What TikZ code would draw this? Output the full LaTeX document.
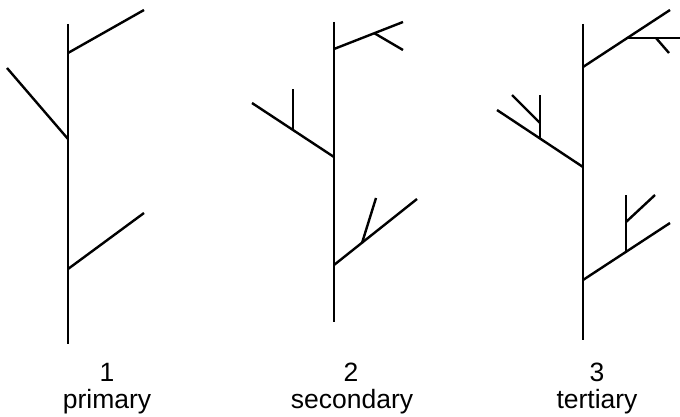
\documentclass[tikz,border=0pt]{standalone}
\usepackage{fontspec}
\setmainfont{Liberation Sans}
\begin{document}
\begin{tikzpicture}[x=1pt,y=-1pt,
  trunk/.style={line width=2.8pt},
  branch/.style={line width=2.4pt},
  lbl/.style={font=\fontsize{26.5}{31}\selectfont, anchor=base, inner sep=0pt}]
\useasboundingbox (0,0) rectangle (680,417);

% --- 1: primary branching ---
\coordinate (a-top) at (68,24);
\coordinate (a-bot) at (68,344);
\coordinate (a-j1) at (68,53);   \coordinate (a-e1) at (144,10);
\coordinate (a-j2) at (68,139);  \coordinate (a-e2) at (7,68);
\coordinate (a-j3) at (68,269);  \coordinate (a-e3) at (144,213);
\draw[trunk] (a-top) -- (a-bot);
\draw[branch] (a-j1) -- (a-e1);
\draw[branch] (a-j2) -- (a-e2);
\draw[branch] (a-j3) -- (a-e3);

% --- 2: secondary branching ---
\coordinate (b-top) at (334,22);
\coordinate (b-bot) at (334,322);
\coordinate (b-j1) at (334,49);  \coordinate (b-e1) at (403,22);
\coordinate (b-k1) at (374,33);  \coordinate (b-f1) at (403,50);
\coordinate (b-j2) at (334,157); \coordinate (b-e2) at (252,103);
\coordinate (b-k2) at (293,130); \coordinate (b-f2) at (293,89);
\coordinate (b-j3) at (334,265); \coordinate (b-e3) at (417,199);
\coordinate (b-k3) at (362,243); \coordinate (b-f3) at (376,198);
\draw[trunk] (b-top) -- (b-bot);
\draw[branch] (b-j1) -- (b-e1);
\draw[branch] (b-k1) -- (b-f1);
\draw[branch] (b-j2) -- (b-e2);
\draw[branch] (b-k2) -- (b-f2);
\draw[branch] (b-j3) -- (b-e3);
\draw[branch] (b-k3) -- (b-f3);

% --- 3: tertiary branching ---
\coordinate (c-top) at (583,24);
\coordinate (c-bot) at (583,340);
\coordinate (c-j1) at (583,67);  \coordinate (c-e1) at (670,10);
\coordinate (c-k1) at (628,38);  \coordinate (c-f1) at (680,38);
\coordinate (c-m1) at (656,38);  \coordinate (c-g1) at (669,53);
\coordinate (c-j2) at (583,167); \coordinate (c-e2) at (497,110);
\coordinate (c-k2) at (540,138); \coordinate (c-f2) at (540,95);
\coordinate (c-m2) at (540,123); \coordinate (c-g2) at (512,95);
\coordinate (c-j3) at (583,280); \coordinate (c-e3) at (670,223);
\coordinate (c-k3) at (626,252); \coordinate (c-f3) at (626,195);
\coordinate (c-m3) at (626,222); \coordinate (c-g3) at (655,195);
\draw[trunk] (c-top) -- (c-bot);
\draw[branch] (c-j1) -- (c-e1);
\draw[branch] (c-k1) -- (c-f1);
\draw[branch] (c-m1) -- (c-g1);
\draw[branch] (c-j2) -- (c-e2);
\draw[branch] (c-k2) -- (c-f2);
\draw[branch] (c-m2) -- (c-g2);
\draw[branch] (c-j3) -- (c-e3);
\draw[branch] (c-k3) -- (c-f3);
\draw[branch] (c-m3) -- (c-g3);

% --- captions ---
\node[lbl] (n1) at (107,381) {1};
\node[lbl] (l1) at (107,408) {primary};
\node[lbl] (n2) at (351,381) {2};
\node[lbl] (l2) at (352,408) {secondary};
\node[lbl] (n3) at (597,381) {3};
\node[lbl] (l3) at (597,408) {tertiary};
\end{tikzpicture}
\end{document}
